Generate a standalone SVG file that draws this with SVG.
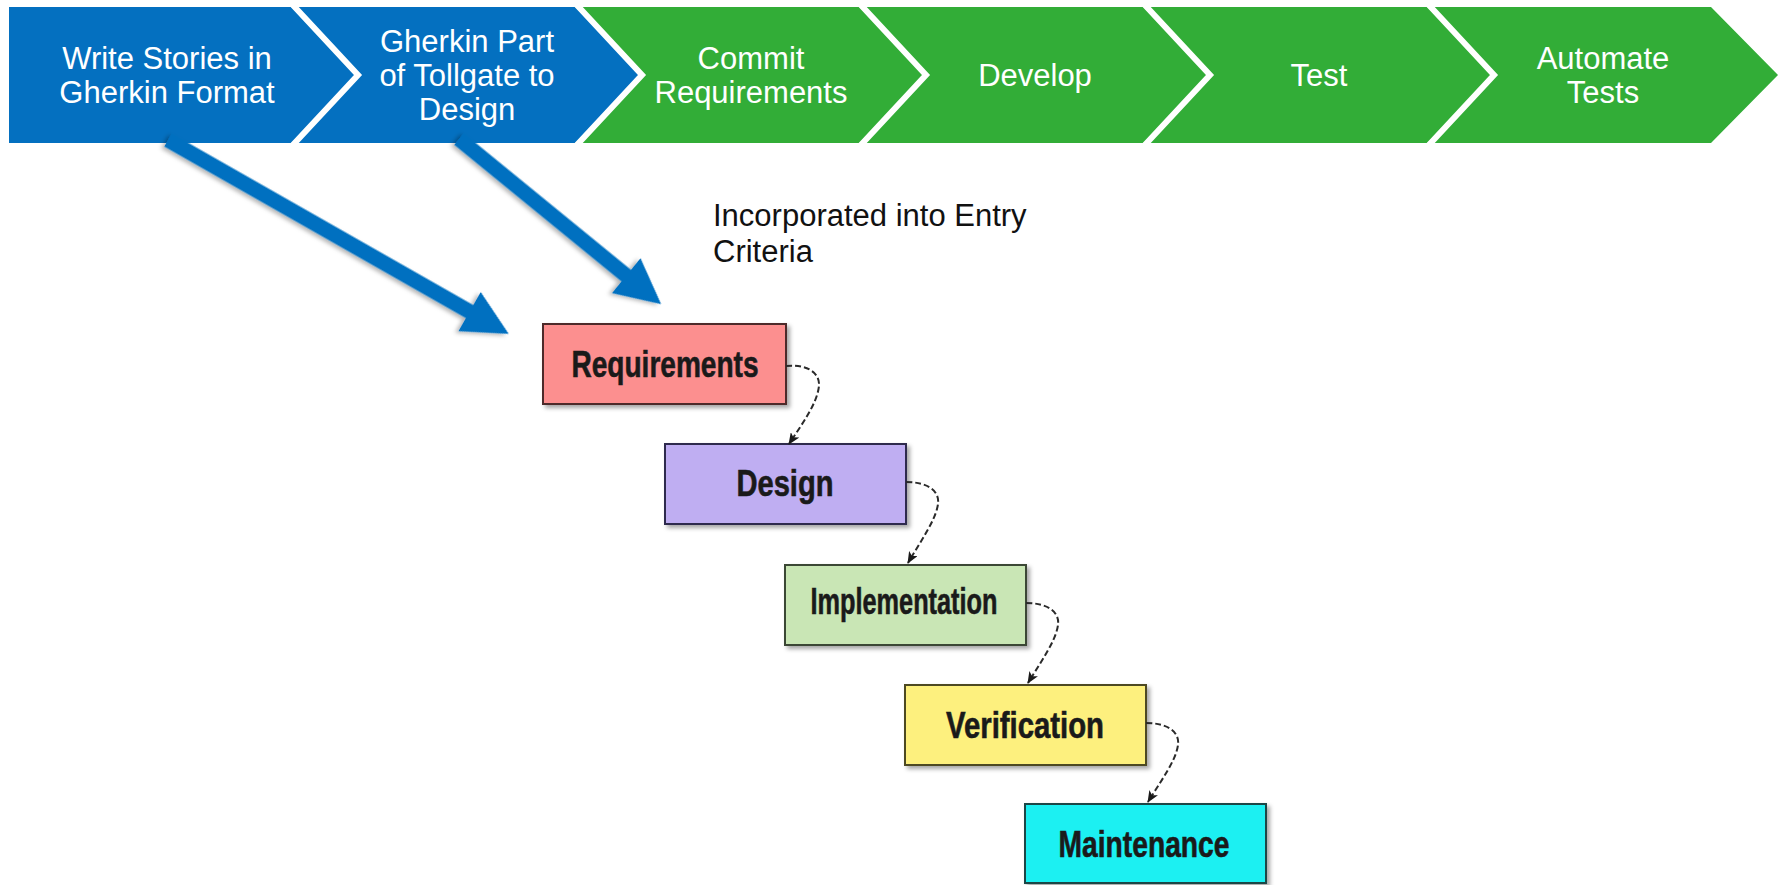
<svg xmlns="http://www.w3.org/2000/svg" width="1781" height="885" viewBox="0 0 1781 885">
  <style>
    .blue { fill: #0470c0; }
    .green { fill: #32ad37; }
    .sep { fill: none; stroke: #ffffff; stroke-width: 6; stroke-linejoin: miter; }
    .stage { font-family: "Liberation Sans", Arial, sans-serif; font-size: 31px; fill: #ffffff; text-anchor: middle; }
    .note { font-family: "Liberation Sans", Arial, sans-serif; font-size: 31px; fill: #111111; }
    .box { stroke-width: 2; filter: url(#boxShadow); }
    .lbl { font-family: "Liberation Sans", Arial, sans-serif; font-weight: bold; font-size: 36px; fill: #1a1a1a; stroke: #1a1a1a; stroke-width: 0.6; text-anchor: middle; }
    .flow { fill: none; stroke: #2a2a2a; stroke-width: 2; stroke-dasharray: 6 3; marker-end: url(#tip); }
    .bigArrow { fill: #0470c0; filter: url(#arrowShadow); }
  </style>
  <defs>
    <filter id="boxShadow" x="-10%" y="-10%" width="130%" height="140%">
      <feDropShadow dx="3" dy="3" stdDeviation="2" flood-color="#000000" flood-opacity="0.35"/>
    </filter>
    <filter id="arrowShadow" x="-10%" y="-20%" width="120%" height="140%">
      <feDropShadow dx="-2" dy="3" stdDeviation="2" flood-color="#000000" flood-opacity="0.3"/>
    </filter>
    <marker id="tip" viewBox="0 0 12 10" refX="11" refY="5" markerWidth="12" markerHeight="10" markerUnits="userSpaceOnUse" orient="auto">
      <path d="M0,0 L12,5 L0,10 L3,5 Z" fill="#1a1a1a"/>
    </marker>
  </defs>

  <!-- process chevrons -->
  <g id="stage-write-stories">
    <polygon class="blue" points="9,7 291,7 358,75 291,143 9,143"/>
    <text class="stage" x="167" y="69">Write Stories in</text>
    <text class="stage" x="167" y="103">Gherkin Format</text>
  </g>
  <g id="stage-gherkin-tollgate">
    <polygon class="blue" points="291,7 575,7 642,75 575,143 291,143 358,75"/>
    <text class="stage" x="467" y="52">Gherkin Part</text>
    <text class="stage" x="467" y="86">of Tollgate to</text>
    <text class="stage" x="467" y="120">Design</text>
  </g>
  <g id="stage-commit">
    <polygon class="green" points="575,7 859,7 926,75 859,143 575,143 642,75"/>
    <text class="stage" x="751" y="69">Commit</text>
    <text class="stage" x="751" y="103">Requirements</text>
  </g>
  <g id="stage-develop">
    <polygon class="green" points="859,7 1143,7 1210,75 1143,143 859,143 926,75"/>
    <text class="stage" x="1035" y="86">Develop</text>
  </g>
  <g id="stage-test">
    <polygon class="green" points="1143,7 1427,7 1494,75 1427,143 1143,143 1210,75"/>
    <text class="stage" x="1319" y="86">Test</text>
  </g>
  <g id="stage-automate">
    <polygon class="green" points="1427,7 1711,7 1778,75 1711,143 1427,143 1494,75"/>
    <text class="stage" x="1603" y="69">Automate</text>
    <text class="stage" x="1603" y="103">Tests</text>
  </g>
  <g id="chevron-separators">
    <polyline class="sep" points="291,3 358,75 291,147"/>
    <polyline class="sep" points="575,3 642,75 575,147"/>
    <polyline class="sep" points="859,3 926,75 859,147"/>
    <polyline class="sep" points="1143,3 1210,75 1143,147"/>
    <polyline class="sep" points="1427,3 1494,75 1427,147"/>
  </g>

  <g id="note-entry-criteria">
    <text class="note" x="713" y="226">Incorporated into Entry</text>
    <text class="note" x="713" y="262">Criteria</text>
  </g>

  <!-- waterfall phases -->
  <g id="phase-requirements">
    <rect class="box" x="543" y="324" width="243" height="80" fill="#fc8f8f" stroke="#4e2a2a"/>
    <text class="lbl" x="665" y="377" textLength="187" lengthAdjust="spacingAndGlyphs">Requirements</text>
  </g>
  <g id="phase-design">
    <rect class="box" x="665" y="444" width="241" height="80" fill="#bfaef2" stroke="#2e2a4e"/>
    <text class="lbl" x="785" y="496" textLength="97" lengthAdjust="spacingAndGlyphs">Design</text>
  </g>
  <g id="phase-implementation">
    <rect class="box" x="785" y="565" width="241" height="80" fill="#c9e6b5" stroke="#3a4634"/>
    <text class="lbl" x="904" y="614" textLength="187" lengthAdjust="spacingAndGlyphs">Implementation</text>
  </g>
  <g id="phase-verification">
    <rect class="box" x="905" y="685" width="241" height="80" fill="#fdf07e" stroke="#4e4824"/>
    <text class="lbl" x="1025" y="738" textLength="158" lengthAdjust="spacingAndGlyphs">Verification</text>
  </g>
  <g id="phase-maintenance">
    <rect class="box" x="1025" y="804" width="241" height="79" fill="#1ff0f2" stroke="#1d4646"/>
    <text class="lbl" x="1144" y="857" textLength="171" lengthAdjust="spacingAndGlyphs">Maintenance</text>
  </g>

  <g id="connectors">
    <!-- thick blue arrows from the first two stages down to Requirements -->
    <g class="bigArrow" transform="translate(168,140) rotate(29.64)">
      <polygon points="0,-7.5 347,-7.5 347,-22.5 392,0 347,22.5 347,7.5 0,7.5"/>
    </g>
    <g class="bigArrow" transform="translate(459,139) rotate(39.25)">
      <polygon points="0,-7.5 216,-7.5 216,-22.5 261,0 216,22.5 216,7.5 0,7.5"/>
    </g>
    <!-- dashed hand-offs between phases -->
    <path class="flow" d="M786,366 C806,364 820,372 819,386 C817,404 802,424 789,444"/>
    <path class="flow" d="M906,482 C926,482 940,490 938,504 C936,520 920,542 908,563"/>
    <path class="flow" d="M1026,603 C1046,603 1060,611 1058,625 C1056,641 1040,663 1028,683"/>
    <path class="flow" d="M1146,723 C1166,723 1180,731 1178,745 C1176,761 1160,782 1148,802"/>
  </g>
</svg>
